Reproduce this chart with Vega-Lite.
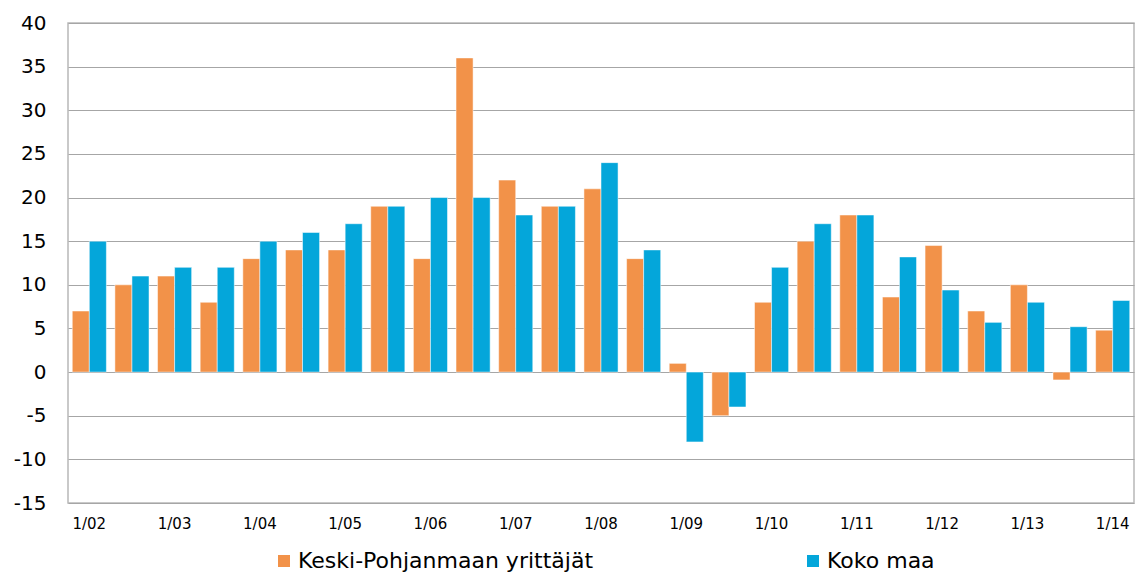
{
  "$schema": "https://vega.github.io/schema/vega-lite/v6.json",
  "width": 1066,
  "height": 480,
  "autosize": {"type": "none"},
  "padding": {"left": 68, "top": 23, "right": 9, "bottom": 70},
  "background": "white",
  "config": {
    "font": "DejaVu Sans",
    "view": {"stroke": "#b8b8b8", "strokeWidth": 1.5}
  },
  "data": {
    "values": [
      {"period": "1/02", "series": "Keski-Pohjanmaan yrittäjät", "value": 7},
      {"period": "1/02", "series": "Koko maa", "value": 15},
      {"period": "7/02", "series": "Keski-Pohjanmaan yrittäjät", "value": 10},
      {"period": "7/02", "series": "Koko maa", "value": 11},
      {"period": "1/03", "series": "Keski-Pohjanmaan yrittäjät", "value": 11},
      {"period": "1/03", "series": "Koko maa", "value": 12},
      {"period": "7/03", "series": "Keski-Pohjanmaan yrittäjät", "value": 8},
      {"period": "7/03", "series": "Koko maa", "value": 12},
      {"period": "1/04", "series": "Keski-Pohjanmaan yrittäjät", "value": 13},
      {"period": "1/04", "series": "Koko maa", "value": 15},
      {"period": "7/04", "series": "Keski-Pohjanmaan yrittäjät", "value": 14},
      {"period": "7/04", "series": "Koko maa", "value": 16},
      {"period": "1/05", "series": "Keski-Pohjanmaan yrittäjät", "value": 14},
      {"period": "1/05", "series": "Koko maa", "value": 17},
      {"period": "7/05", "series": "Keski-Pohjanmaan yrittäjät", "value": 19},
      {"period": "7/05", "series": "Koko maa", "value": 19},
      {"period": "1/06", "series": "Keski-Pohjanmaan yrittäjät", "value": 13},
      {"period": "1/06", "series": "Koko maa", "value": 20},
      {"period": "7/06", "series": "Keski-Pohjanmaan yrittäjät", "value": 36},
      {"period": "7/06", "series": "Koko maa", "value": 20},
      {"period": "1/07", "series": "Keski-Pohjanmaan yrittäjät", "value": 22},
      {"period": "1/07", "series": "Koko maa", "value": 18},
      {"period": "7/07", "series": "Keski-Pohjanmaan yrittäjät", "value": 19},
      {"period": "7/07", "series": "Koko maa", "value": 19},
      {"period": "1/08", "series": "Keski-Pohjanmaan yrittäjät", "value": 21},
      {"period": "1/08", "series": "Koko maa", "value": 24},
      {"period": "7/08", "series": "Keski-Pohjanmaan yrittäjät", "value": 13},
      {"period": "7/08", "series": "Koko maa", "value": 14},
      {"period": "1/09", "series": "Keski-Pohjanmaan yrittäjät", "value": 1},
      {"period": "1/09", "series": "Koko maa", "value": -8},
      {"period": "7/09", "series": "Keski-Pohjanmaan yrittäjät", "value": -5},
      {"period": "7/09", "series": "Koko maa", "value": -4},
      {"period": "1/10", "series": "Keski-Pohjanmaan yrittäjät", "value": 8},
      {"period": "1/10", "series": "Koko maa", "value": 12},
      {"period": "7/10", "series": "Keski-Pohjanmaan yrittäjät", "value": 15},
      {"period": "7/10", "series": "Koko maa", "value": 17},
      {"period": "1/11", "series": "Keski-Pohjanmaan yrittäjät", "value": 18},
      {"period": "1/11", "series": "Koko maa", "value": 18},
      {"period": "7/11", "series": "Keski-Pohjanmaan yrittäjät", "value": 8.6},
      {"period": "7/11", "series": "Koko maa", "value": 13.2},
      {"period": "1/12", "series": "Keski-Pohjanmaan yrittäjät", "value": 14.5},
      {"period": "1/12", "series": "Koko maa", "value": 9.4},
      {"period": "7/12", "series": "Keski-Pohjanmaan yrittäjät", "value": 7},
      {"period": "7/12", "series": "Koko maa", "value": 5.7},
      {"period": "1/13", "series": "Keski-Pohjanmaan yrittäjät", "value": 10},
      {"period": "1/13", "series": "Koko maa", "value": 8},
      {"period": "7/13", "series": "Keski-Pohjanmaan yrittäjät", "value": -0.9},
      {"period": "7/13", "series": "Koko maa", "value": 5.2},
      {"period": "1/14", "series": "Keski-Pohjanmaan yrittäjät", "value": 4.8},
      {"period": "1/14", "series": "Koko maa", "value": 8.2}
    ]
  },
  "mark": {"type": "bar", "stroke": "white", "strokeWidth": 0.5},
  "encoding": {
    "x": {
      "field": "period",
      "type": "nominal",
      "sort": null,
      "scale": {"paddingInner": 0.2, "paddingOuter": 0.1},
      "axis": {
        "title": null,
        "values": ["1/02", "1/03", "1/04", "1/05", "1/06", "1/07", "1/08", "1/09", "1/10", "1/11", "1/12", "1/13", "1/14"],
        "labelAngle": 0,
        "labelFontSize": 15,
        "labelColor": "#000000",
        "labelPadding": 13,
        "ticks": false,
        "domain": false
      }
    },
    "xOffset": {"field": "series", "type": "nominal", "sort": null},
    "y": {
      "field": "value",
      "type": "quantitative",
      "scale": {"domain": [-15, 40], "nice": false},
      "axis": {
        "title": null,
        "values": [-15, -10, -5, 0, 5, 10, 15, 20, 25, 30, 35, 40],
        "labelExpr": "'' + datum.value",
        "labelFontSize": 20,
        "labelColor": "#000000",
        "labelPadding": 22,
        "ticks": false,
        "domain": false,
        "gridColor": "#a6a6a6",
        "gridWidth": 1.2
      }
    },
    "color": {
      "field": "series",
      "type": "nominal",
      "sort": null,
      "scale": {"domain": ["Keski-Pohjanmaan yrittäjät", "Koko maa"], "range": ["#F29249", "#04A6DA"]},
      "legend": {
        "title": null,
        "orient": "none",
        "legendX": 205,
        "legendY": 527,
        "direction": "horizontal",
        "symbolType": "square",
        "symbolSize": 144,
        "symbolStrokeWidth": 0,
        "labelFontSize": 22,
        "labelColor": "#000000",
        "labelLimit": 400,
        "columnPadding": 208,
        "symbolOffset": 0,
        "labelOffset": 3
      }
    }
  }
}
